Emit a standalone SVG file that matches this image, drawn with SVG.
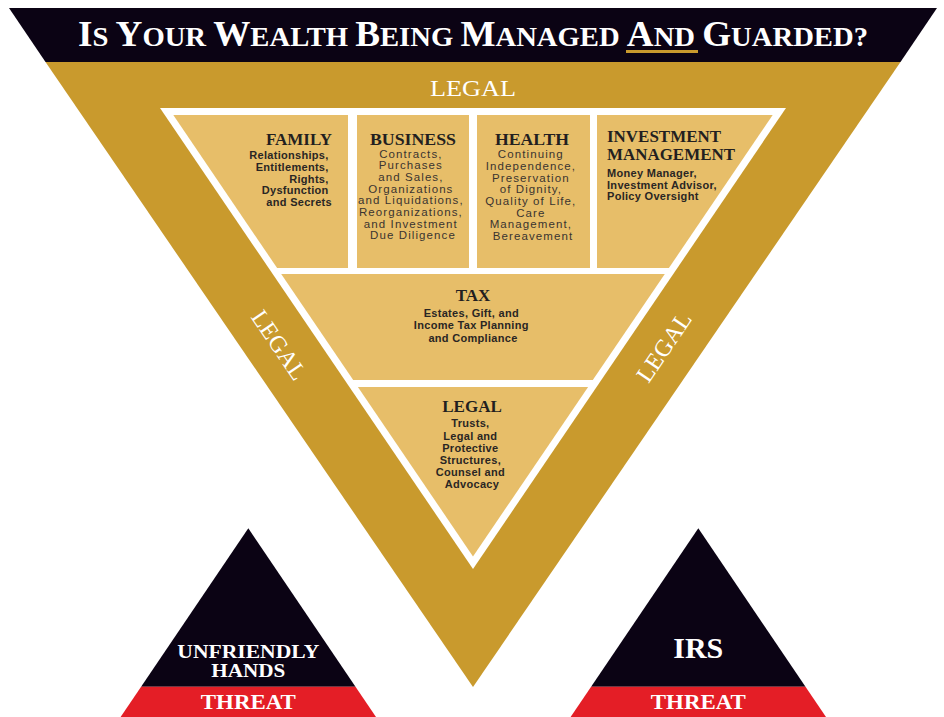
<svg xmlns="http://www.w3.org/2000/svg" width="944" height="717" viewBox="0 0 944 717">
  <style>
    .ink { fill: #0b0314; }
    .gold { fill: #c99a2d; }
    .cell { fill: #e7be69; }
    .red { fill: #e41e26; }
    .serif { font-family: "Liberation Serif", "DejaVu Serif", serif; }
    .head { font-family: "Liberation Serif", "DejaVu Serif", serif; font-weight: bold; font-size: 17px; fill: #231f20; }
    .body { font-family: "Liberation Sans", Arial, sans-serif; font-weight: bold; font-size: 11px; letter-spacing: 0.3px; fill: #2a2624; }
    .lite { font-family: "Liberation Sans", Arial, sans-serif; font-size: 11.5px; letter-spacing: 1.1px; fill: #3a3430; }
    .white { fill: #ffffff; }
    .mid { text-anchor: middle; }
    .end { text-anchor: end; }
  </style>

  <rect width="944" height="717" fill="#ffffff"/>

  <!-- outer inverted triangle: dark title band above the gold frame -->
  <g id="title-band">
    <polygon class="ink" points="9,8 937,8 900.5,62 45.5,62"/>
    <text class="serif white" x="473" y="46" text-anchor="middle" font-weight="bold" textLength="790" lengthAdjust="spacingAndGlyphs"><tspan font-size="35">I</tspan><tspan font-size="27">S </tspan><tspan font-size="35">Y</tspan><tspan font-size="27">OUR </tspan><tspan font-size="35">W</tspan><tspan font-size="27">EALTH </tspan><tspan font-size="35">B</tspan><tspan font-size="27">EING </tspan><tspan font-size="35">M</tspan><tspan font-size="27">ANAGED </tspan><tspan font-size="35">A</tspan><tspan font-size="27">ND </tspan><tspan font-size="35">G</tspan><tspan font-size="27">UARDED?</tspan></text>
    <rect x="626" y="50" width="72" height="3" fill="#c99a2d"/>
  </g>

  <g id="legal-frame">
    <polygon class="gold" points="45.5,62 900.5,62 473,687"/>
    <text class="serif white mid" x="473" y="96" font-size="24" textLength="86" lengthAdjust="spacingAndGlyphs">LEGAL</text>
    <text class="serif white mid" font-size="24" transform="translate(279,345) rotate(55.8)" y="8">LEGAL</text>
    <text class="serif white mid" font-size="24" transform="translate(664,347) rotate(-55.8)" y="8">LEGAL</text>
    <!-- white keyline triangle holding the cells -->
    <polygon class="white" points="160,108 786,108 473,569"/>
  </g>

  <g id="family">
    <polygon class="cell" points="173.3,115 348,115 348,268 277.1,268"/>
    <text class="head end" x="332" y="144.5" font-size="16.5">FAMILY</text>
    <text class="body end" x="332">
      <tspan x="332" y="159">Relationships,</tspan>
      <tspan x="332" y="170.8">Entitlements,</tspan>
      <tspan x="332" y="182.6">Rights,</tspan>
      <tspan x="332" y="194.4">Dysfunction</tspan>
      <tspan x="332" y="206.2">and Secrets</tspan>
    </text>
  </g>

  <g id="business">
    <rect class="cell" x="357" y="115" width="112" height="153"/>
    <text class="head mid" x="413" y="144.5" textLength="86" lengthAdjust="spacingAndGlyphs">BUSINESS</text>
    <text class="lite mid" x="413">
      <tspan x="413" y="157.7">Contracts,</tspan>
      <tspan x="413" y="169.3">Purchases</tspan>
      <tspan x="413" y="181">and Sales,</tspan>
      <tspan x="413" y="192.7">Organizations</tspan>
      <tspan x="413" y="204.3">and Liquidations,</tspan>
      <tspan x="413" y="216">Reorganizations,</tspan>
      <tspan x="413" y="227.7">and Investment</tspan>
      <tspan x="413" y="239.3">Due Diligence</tspan>
    </text>
  </g>

  <g id="health">
    <rect class="cell" x="477" y="115" width="113" height="153"/>
    <text class="head mid" x="532" y="144.5" textLength="74" lengthAdjust="spacingAndGlyphs">HEALTH</text>
    <text class="lite mid" x="533" font-size="12" letter-spacing="0.8" fill="#2e2a27">
      <tspan x="533" y="158.3">Continuing</tspan>
      <tspan x="533" y="170">Independence,</tspan>
      <tspan x="533" y="181.7">Preservation</tspan>
      <tspan x="533" y="193.3">of Dignity,</tspan>
      <tspan x="533" y="205">Quality of Life,</tspan>
      <tspan x="533" y="216.7">Care</tspan>
      <tspan x="533" y="228.3">Management,</tspan>
      <tspan x="533" y="240">Bereavement</tspan>
    </text>
  </g>

  <g id="investment-management">
    <polygon class="cell" points="597,115 772.7,115 668.9,268 597,268"/>
    <text class="head" x="607" y="141.5" font-size="15" textLength="114" lengthAdjust="spacingAndGlyphs">INVESTMENT</text>
    <text class="head" x="607" y="159.5" font-size="15" textLength="128" lengthAdjust="spacingAndGlyphs">MANAGEMENT</text>
    <text class="body">
      <tspan x="607" y="176.7">Money Manager,</tspan>
      <tspan x="607" y="188.5">Investment Advisor,</tspan>
      <tspan x="607" y="200.3">Policy Oversight</tspan>
    </text>
  </g>

  <g id="tax">
    <polygon class="cell" points="281.2,274 664.8,274 592.8,380 353.2,380"/>
    <text class="head mid" x="473" y="300.7">TAX</text>
    <text class="body mid" x="473" font-size="11.5" letter-spacing="0.6">
      <tspan x="473" y="316.7">Estates, Gift, and</tspan>
      <tspan x="473" y="329.3">Income Tax Planning</tspan>
      <tspan x="473" y="341.9">and Compliance</tspan>
    </text>
  </g>

  <g id="legal">
    <polygon class="cell" points="357.9,387 588.1,387 473,556.4"/>
    <text class="head mid" x="472" y="411.7">LEGAL</text>
    <text class="body mid" x="472" font-size="11.5" letter-spacing="0.6">
      <tspan x="472" y="427.3">Trusts,</tspan>
      <tspan x="472" y="439.5">Legal and</tspan>
      <tspan x="472" y="451.7">Protective</tspan>
      <tspan x="472" y="463.9">Structures,</tspan>
      <tspan x="472" y="476.1">Counsel and</tspan>
      <tspan x="472" y="488.3">Advocacy</tspan>
    </text>
  </g>

  <g id="threat-unfriendly-hands">
    <polygon class="ink" points="248.3,528.3 355.5,686.7 141.1,686.7"/>
    <polygon class="red" points="141.1,686.7 355.5,686.7 376,717 120.6,717"/>
    <text class="serif white mid" x="248.3" y="657.5" font-size="19.5" font-weight="bold" textLength="142" lengthAdjust="spacingAndGlyphs">UNFRIENDLY</text>
    <text class="serif white mid" x="248.3" y="677" font-size="19.5" font-weight="bold" textLength="74" lengthAdjust="spacingAndGlyphs">HANDS</text>
    <text class="serif white mid" x="248.3" y="709.3" font-size="21.5" font-weight="bold" textLength="95" lengthAdjust="spacingAndGlyphs">THREAT</text>
  </g>

  <g id="threat-irs">
    <polygon class="ink" points="698.3,528.3 805.5,686.7 591.1,686.7"/>
    <polygon class="red" points="591.1,686.7 805.5,686.7 826,717 570.6,717"/>
    <text class="serif white mid" x="698.3" y="658.3" font-size="30" font-weight="bold">IRS</text>
    <text class="serif white mid" x="698.3" y="709.3" font-size="21.5" font-weight="bold" textLength="95" lengthAdjust="spacingAndGlyphs">THREAT</text>
  </g>

  <g id="connectors"/>
</svg>
